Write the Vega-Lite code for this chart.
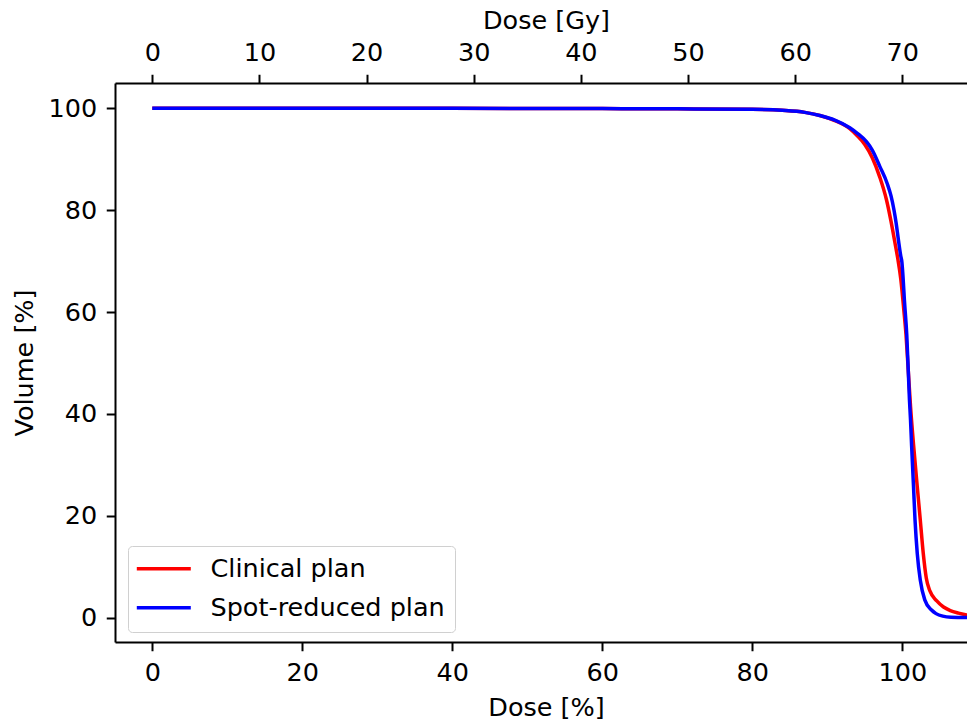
{
  "$schema": "https://vega.github.io/schema/vega-lite/v6.json",
  "width": 852,
  "height": 559,
  "autosize": {"type": "none"},
  "padding": {"left": 115, "top": 83, "right": 0, "bottom": 80},
  "background": "white",
  "config": {
    "view": {"stroke": null},
    "font": "DejaVu Sans",
    "axis": {
      "grid": false,
      "domainColor": "black",
      "domainWidth": 2,
      "tickColor": "black",
      "tickWidth": 2,
      "tickSize": 8.75,
      "labelFont": "DejaVu Sans",
      "labelFontSize": 25.5,
      "labelColor": "black",
      "labelPadding": 9,
      "titleFont": "DejaVu Sans",
      "titleFontSize": 25.5,
      "titleFontWeight": "normal",
      "titleColor": "black"
    },
    "legend": {
      "labelFont": "DejaVu Sans",
      "labelFontSize": 25.5,
      "labelColor": "black",
      "labelLimit": 500
    }
  },
  "datasets": {
    "dvh": [
      {"dose": 0, "volume": 100, "plan": "Clinical plan"},
      {"dose": 20, "volume": 100, "plan": "Clinical plan"},
      {"dose": 40, "volume": 100, "plan": "Clinical plan"},
      {"dose": 60, "volume": 99.95, "plan": "Clinical plan"},
      {"dose": 70, "volume": 99.9, "plan": "Clinical plan"},
      {"dose": 80, "volume": 99.8, "plan": "Clinical plan"},
      {"dose": 84, "volume": 99.6, "plan": "Clinical plan"},
      {"dose": 87, "volume": 99.2, "plan": "Clinical plan"},
      {"dose": 89, "volume": 98.6, "plan": "Clinical plan"},
      {"dose": 91, "volume": 97.6, "plan": "Clinical plan"},
      {"dose": 93, "volume": 96.0, "plan": "Clinical plan"},
      {"dose": 94, "volume": 94.6, "plan": "Clinical plan"},
      {"dose": 95, "volume": 92.9, "plan": "Clinical plan"},
      {"dose": 96, "volume": 90.3, "plan": "Clinical plan"},
      {"dose": 97, "volume": 86.5, "plan": "Clinical plan"},
      {"dose": 97.9, "volume": 82, "plan": "Clinical plan"},
      {"dose": 98.5, "volume": 77.8, "plan": "Clinical plan"},
      {"dose": 99.0, "volume": 73.8, "plan": "Clinical plan"},
      {"dose": 99.4, "volume": 70.5, "plan": "Clinical plan"},
      {"dose": 99.8, "volume": 66.5, "plan": "Clinical plan"},
      {"dose": 100.2, "volume": 60.5, "plan": "Clinical plan"},
      {"dose": 100.5, "volume": 55.5, "plan": "Clinical plan"},
      {"dose": 100.8, "volume": 48.5, "plan": "Clinical plan"},
      {"dose": 101.1, "volume": 41.5, "plan": "Clinical plan"},
      {"dose": 101.5, "volume": 34, "plan": "Clinical plan"},
      {"dose": 102.0, "volume": 25.7, "plan": "Clinical plan"},
      {"dose": 102.4, "volume": 19.2, "plan": "Clinical plan"},
      {"dose": 102.8, "volume": 12.6, "plan": "Clinical plan"},
      {"dose": 103.2, "volume": 7.8, "plan": "Clinical plan"},
      {"dose": 103.7, "volume": 5.2, "plan": "Clinical plan"},
      {"dose": 104.6, "volume": 3.3, "plan": "Clinical plan"},
      {"dose": 105.5, "volume": 2.1, "plan": "Clinical plan"},
      {"dose": 106.4, "volume": 1.4, "plan": "Clinical plan"},
      {"dose": 107.5, "volume": 0.9, "plan": "Clinical plan"},
      {"dose": 108.7, "volume": 0.5, "plan": "Clinical plan"},
      {"dose": 0, "volume": 100, "plan": "Spot-reduced plan"},
      {"dose": 20, "volume": 100, "plan": "Spot-reduced plan"},
      {"dose": 40, "volume": 100, "plan": "Spot-reduced plan"},
      {"dose": 60, "volume": 99.95, "plan": "Spot-reduced plan"},
      {"dose": 70, "volume": 99.9, "plan": "Spot-reduced plan"},
      {"dose": 80, "volume": 99.8, "plan": "Spot-reduced plan"},
      {"dose": 84, "volume": 99.6, "plan": "Spot-reduced plan"},
      {"dose": 87, "volume": 99.2, "plan": "Spot-reduced plan"},
      {"dose": 89, "volume": 98.6, "plan": "Spot-reduced plan"},
      {"dose": 91, "volume": 97.7, "plan": "Spot-reduced plan"},
      {"dose": 93, "volume": 96.2, "plan": "Spot-reduced plan"},
      {"dose": 94, "volume": 95.1, "plan": "Spot-reduced plan"},
      {"dose": 95.25, "volume": 93.4, "plan": "Spot-reduced plan"},
      {"dose": 96, "volume": 91.8, "plan": "Spot-reduced plan"},
      {"dose": 97, "volume": 88.6, "plan": "Spot-reduced plan"},
      {"dose": 98, "volume": 85.2, "plan": "Spot-reduced plan"},
      {"dose": 98.5, "volume": 82.8, "plan": "Spot-reduced plan"},
      {"dose": 98.9, "volume": 80, "plan": "Spot-reduced plan"},
      {"dose": 99.2, "volume": 77.3, "plan": "Spot-reduced plan"},
      {"dose": 99.5, "volume": 74, "plan": "Spot-reduced plan"},
      {"dose": 99.8, "volume": 71, "plan": "Spot-reduced plan"},
      {"dose": 99.95, "volume": 69.8, "plan": "Spot-reduced plan"},
      {"dose": 100.05, "volume": 68.0, "plan": "Spot-reduced plan"},
      {"dose": 100.3, "volume": 62, "plan": "Spot-reduced plan"},
      {"dose": 100.6, "volume": 55.5, "plan": "Spot-reduced plan"},
      {"dose": 100.96, "volume": 42.7, "plan": "Spot-reduced plan"},
      {"dose": 101.1, "volume": 38.8, "plan": "Spot-reduced plan"},
      {"dose": 101.25, "volume": 33.6, "plan": "Spot-reduced plan"},
      {"dose": 101.5, "volume": 25.7, "plan": "Spot-reduced plan"},
      {"dose": 101.7, "volume": 19.2, "plan": "Spot-reduced plan"},
      {"dose": 102.0, "volume": 12.6, "plan": "Spot-reduced plan"},
      {"dose": 102.4, "volume": 7.4, "plan": "Spot-reduced plan"},
      {"dose": 103.0, "volume": 3.5, "plan": "Spot-reduced plan"},
      {"dose": 103.9, "volume": 1.5, "plan": "Spot-reduced plan"},
      {"dose": 104.5, "volume": 0.8, "plan": "Spot-reduced plan"},
      {"dose": 105.4, "volume": 0.3, "plan": "Spot-reduced plan"},
      {"dose": 106.5, "volume": 0.1, "plan": "Spot-reduced plan"},
      {"dose": 108.7, "volume": 0.05, "plan": "Spot-reduced plan"}
    ],
    "gyticks": [
      {"gy": 0}, {"gy": 10}, {"gy": 20}, {"gy": 30}, {"gy": 40}, {"gy": 50}, {"gy": 60}, {"gy": 70}
    ]
  },
  "layer": [
    {
      "data": {"name": "dvh"},
      "mark": {"type": "line", "strokeWidth": 3.5, "clip": true, "interpolate": "monotone"},
      "encoding": {
        "x": {
          "field": "dose", "type": "quantitative",
          "scale": {"domain": [-4.97, 108.63], "nice": false, "zero": false},
          "axis": {"orient": "bottom", "values": [0, 20, 40, 60, 80, 100], "title": "Dose [%]", "titleX": 431, "titleY": 73, "titleBaseline": "alphabetic", "labelPadding": 9.5}
        },
        "y": {
          "field": "volume", "type": "quantitative",
          "scale": {"domain": [-4.77, 104.97], "nice": false, "zero": false},
          "axis": {"values": [0, 20, 40, 60, 80, 100], "title": "Volume [%]", "titleX": -83, "titleBaseline": "alphabetic", "labelPadding": 9.5}
        },
        "color": {
          "field": "plan", "type": "nominal",
          "scale": {"domain": ["Clinical plan", "Spot-reduced plan"], "range": ["#ff0000", "#0000ff"]},
          "legend": {
            "title": null,
            "orient": "none",
            "legendX": 13,
            "legendY": 463,
            "symbolType": "M-1.55,0L4.45,0",
            "symbolSize": 324,
            "symbolStrokeWidth": 3.5,
            "labelOffset": 47,
            "padding": 10,
            "rowPadding": 12,
            "fillColor": "rgba(255,255,255,0.8)",
            "strokeColor": "#d0d0d0",
            "cornerRadius": 4
          }
        }
      }
    },
    {
      "data": {"name": "gyticks"},
      "mark": {"type": "rule", "opacity": 0},
      "encoding": {
        "x": {
          "field": "gy", "type": "quantitative",
          "scale": {"domain": [-3.479, 76.041], "nice": false, "zero": false},
          "axis": {"orient": "top", "values": [0, 10, 20, 30, 40, 50, 60, 70], "title": "Dose [Gy]", "titleX": 431, "titleY": -55, "titleBaseline": "alphabetic", "labelPadding": 8.5}
        }
      }
    }
  ],
  "resolve": {"scale": {"x": "independent"}, "axis": {"x": "independent"}}
}
